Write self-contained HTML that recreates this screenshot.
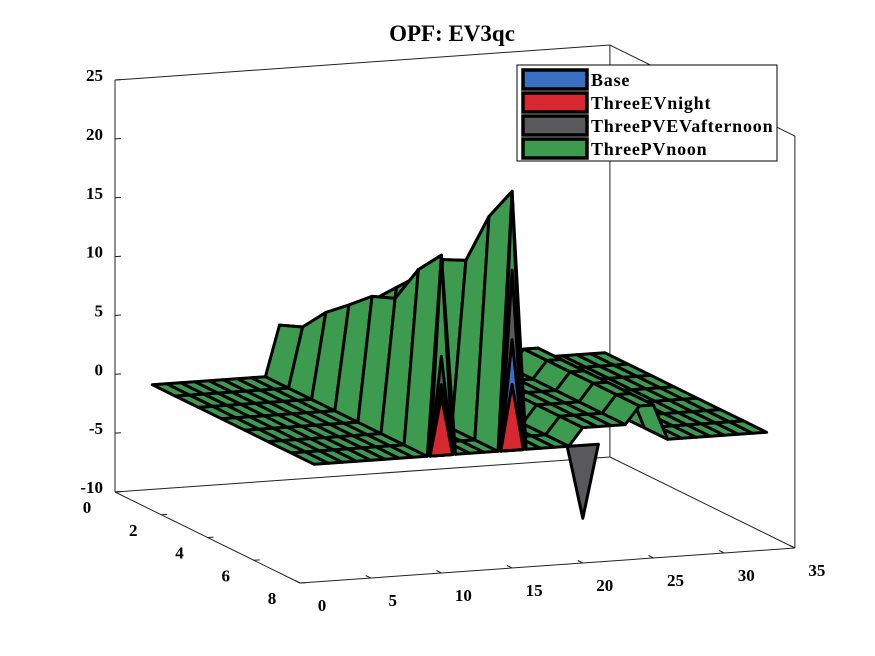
<!DOCTYPE html>
<html><head><meta charset="utf-8"><style>
html,body{margin:0;padding:0;background:#fff;}
svg{display:block;font-family:"Liberation Serif",serif;font-weight:bold;}
</style></head><body>
<svg id="chart" width="875" height="656" viewBox="0 0 875 656" xmlns="http://www.w3.org/2000/svg">
<rect width="875" height="656" fill="#fff"/>
<text x="452" y="41" text-anchor="middle" font-size="23">OPF: EV3qc</text>
<g id="box"></g>
<g id="ticks"></g>
<g id="surf"></g>
<g>
<rect x="517" y="65" width="260" height="96" fill="#fff" stroke="#000" stroke-width="1"/>
<g><rect x="523" y="70" width="64" height="19" fill="#3a6fc4" stroke="#000" stroke-width="3.5"/><text x="591" y="86" font-size="18" letter-spacing="0.8">Base</text></g>
<g><rect x="523" y="93" width="64" height="19" fill="#d7282f" stroke="#000" stroke-width="3.5"/><text x="591" y="109" font-size="18" letter-spacing="0.8">ThreeEVnight</text></g>
<g><rect x="523" y="116" width="64" height="19" fill="#59595c" stroke="#000" stroke-width="3.5"/><text x="591" y="132" font-size="18" letter-spacing="0.8">ThreePVEVafternoon</text></g>
<g><rect x="523" y="139" width="64" height="19" fill="#3d9b50" stroke="#000" stroke-width="3.5"/><text x="591" y="155" font-size="18" letter-spacing="0.8">ThreePVnoon</text></g>
</g>
</svg>
<script>
// ---- data ----
const xTicks = [0,5,10,15,20,25,30,35];
const yTicks = [0,2,4,6,8];
const zTicks = [-10,-5,0,5,10,15,20,25];
const xCats = [1,2,3,4,5,6,7,8,9,10,11,12,13,14,15,16,17,18,19,20,21,22,23,24,25,26,27,28,29,30,31,32,33];
const yCats = [1,2,3,4,5,6,7,8];
// ThreePVnoon surface values, rows y=1..8, columns x=1..33
const greenZ = [
[0,0,0,0,0,0,0,0,0,4.3,0,0,0,0,5.5,0,0,0,0,0,0,0,0,0,0,0,0,0,0,0,0,0,0],
[0,0,0,0,0,0,0,0,0,5.1,0,0,0,0,7,0,0,0,0,0,0,0,0,0,0,0,0,0,0,0,0,0,0],
[0,0,0,0,0,0,0,0,0,7.3,0,0,0,0,9,0,0,0,0,1.5,1.5,1.5,1.5,3,3,0,0,0,0,0,0,0,0],
[0,0,0,0,0,0,0,0,0,8.9,0,0,0,0,11,0,0,0,0,1.5,1.5,1.5,1.5,3,3,0,0,0,0,0,0,0,0],
[0,0,0,0,0,0,0,0,0,10.6,0,0,0,0,13.3,0,0,0,0,1.5,1.5,1.5,1.5,3,3,0,0,0,0,0,0,0,0],
[0,0,0,0,0,0,0,0,0,11.4,0,0,0,0,14.2,0,0,0,0,1.5,1.5,1.5,1.5,3,3,0,0,0,0,0,0,0,0],
[0,0,0,0,0,0,0,0,0,14.8,0,0,0,0,18.9,0,0,0,0,1.5,1.5,1.5,1.5,3,3,0,0,0,0,0,0,0,0],
[0,0,0,0,0,0,0,0,0,17,0,0,0,0,22,0,0,0,0,1.5,1.5,1.5,1.5,3,3,0,0,0,0,0,0,0,0]
];
// spike peaks of the other series at the front row
const spikeX = [10,15];
const spikeY = [8,8];
const grayPeak = [8.4,15.3];
const basePeak = [6,9.4];
const redPeak = [5,5.6];
const dipX = [20];
const dipY = [8];
const grayDip = [-6.2];

// ---- projection ----
function P(x,y,z){return [115+14.14*x+23.125*y, 492 - x + 11.375*y - (z+10)*11.77];}
function depth(x,y,z){return -1.634*x + y + 1.107*z;}
const NS='http://www.w3.org/2000/svg';
function mk(tag,parent,attrs){const e=document.createElementNS(NS,tag);for(const k in attrs)e.setAttribute(k,attrs[k]);parent.appendChild(e);return e;}
function pts(a){return a.map(p=>p[0].toFixed(1)+','+p[1].toFixed(1)).join(' ');}

// ---- box ----
const box=document.getElementById('box');
const boxLines=[[[0,0,-10],[35,0,-10]],[[0,0,-10],[0,8,-10]],[[0,8,-10],[35,8,-10]],[[35,0,-10],[35,8,-10]],
[[0,0,-10],[0,0,25]],[[35,0,-10],[35,0,25]],[[35,8,-10],[35,8,25]],[[0,0,25],[35,0,25]],[[35,0,25],[35,8,25]]];
boxLines.forEach(l=>{const a=P(...l[0]),b=P(...l[1]);
const e=mk('line',box,{x1:a[0],y1:a[1],x2:b[0],y2:b[1],stroke:'#222','stroke-width':1});

});

// ---- ticks ----
const tk=document.getElementById('ticks');
zTicks.forEach(z=>{const p=P(0,0,z);
const t=mk('line',tk,{x1:p[0],y1:p[1],x2:p[0]+6,y2:p[1]-0.4,stroke:'#222','stroke-width':1});


const e=mk('text',tk,{x:p[0]-12,y:p[1]+1,'text-anchor':'end','font-size':17});


e.textContent=z;});
xTicks.forEach(x=>{const p=P(x,8,-10);
const t=mk('line',tk,{x1:p[0],y1:p[1],x2:p[0]-5,y2:p[1]-2.5,stroke:'#222','stroke-width':1});


const e=mk('text',tk,{x:p[0]+22,y:p[1]+28,'text-anchor':'middle','font-size':17});


e.textContent=x;});
yTicks.forEach(y=>{const p=P(0,y,-10);
const t=mk('line',tk,{x1:p[0],y1:p[1],x2:p[0]+6,y2:p[1]-0.4,stroke:'#222','stroke-width':1});


const e=mk('text',tk,{x:p[0]-28,y:p[1]+21,'text-anchor':'middle','font-size':17});


e.textContent=y;});

// ---- surfaces ----
const sg=document.getElementById('surf');
const C={base:'#3a6fc4',red:'#d7282f',gray:'#59595c',green:'#3d9b50'};
dipX.forEach((x,i)=>{const y=dipY[i];
const e=mk('polygon',sg,{points:pts([P(x-1.1,y,0),P(x,y,grayDip[i]),P(x+1.1,y,0)]),fill:C.gray,stroke:'#000','stroke-width':3,'stroke-linejoin':'round'});

});
const quads=[];
for(let j=0;j<yCats.length-1;j++){for(let i=0;i<xCats.length-1;i++){
const x0=xCats[i],x1=xCats[i+1],y0=yCats[j],y1=yCats[j+1];
const z00=greenZ[j][i],z10=greenZ[j][i+1],z11=greenZ[j+1][i+1],z01=greenZ[j+1][i];
const d=depth((x0+x1)/2,(y0+y1)/2,(z00+z10+z11+z01)/4);
quads.push({d,p:[P(x0,y0,z00),P(x1,y0,z10),P(x1,y1,z11),P(x0,y1,z01)]});}}
quads.sort((a,b)=>a.d-b.d);
quads.forEach(q=>{const e=mk('polygon',sg,{points:pts(q.p),fill:C.green,stroke:'#000','stroke-width':3,'stroke-linejoin':'round'});

});
spikeX.forEach((x,i)=>{const y=spikeY[i];const gz=greenZ[y-1][x-1];
const layers=[[gz,C.green,'threepvnoon-spike'],[grayPeak[i],C.gray,'threepvevafternoon-spike'],[basePeak[i],C.base,'base-spike'],[redPeak[i],C.red,'threeevnight-spike']];
layers.forEach(L=>{const e=mk('polygon',sg,{points:pts([P(x-0.8,y,0),P(x,y,L[0]),P(x+0.8,y,0)]),fill:L[1],stroke:'#000','stroke-width':3,'stroke-linejoin':'round'});

});});
</script>
</body></html>
